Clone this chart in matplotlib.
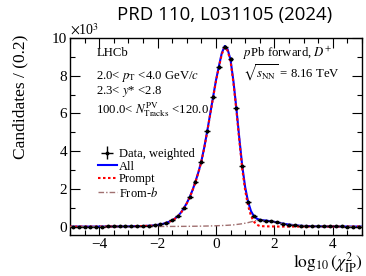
import numpy as np
import matplotlib
matplotlib.use("Agg")
import matplotlib.pyplot as plt
from matplotlib.ticker import MultipleLocator
from matplotlib.lines import Line2D

plt.rcParams['font.family'] = 'Liberation Serif'
plt.rcParams['mathtext.fontset'] = 'stix'

# data, units of 10^3 candidates per 0.2
bin_x = np.round(np.arange(-4.9, 5.0, 0.2), 2)
data_y = [0.0, 0.0, 0.0, 0.0, 0.0, 0.0, 0.005, 0.005, 0.01, 0.01,
          0.015, 0.02, 0.03, 0.04, 0.07, 0.12, 0.2, 0.33, 0.57, 0.97,
          1.56, 2.39, 3.45, 5.06, 6.86, 8.48, 9.52, 8.87, 6.27, 3.22,
          1.32, 0.55, 0.36, 0.32, 0.28, 0.22, 0.16, 0.11, 0.07, 0.045,
          0.03, 0.02, 0.015, 0.01, 0.01, 0.005, 0.005, 0.0, 0.0, 0.0]
data_err = [0.01, 0.01, 0.01, 0.01, 0.01, 0.01, 0.01, 0.01, 0.01, 0.01,
            0.01, 0.01, 0.015, 0.015, 0.02, 0.02, 0.03, 0.03, 0.04, 0.05,
            0.06, 0.07, 0.08, 0.09, 0.1, 0.11, 0.12, 0.11, 0.1, 0.07,
            0.05, 0.03, 0.03, 0.03, 0.03, 0.02, 0.02, 0.02, 0.015, 0.015,
            0.01, 0.01, 0.01, 0.01, 0.01, 0.01, 0.01, 0.01, 0.01, 0.01]

curve_x = [-5.0, -4.0, -3.0, -2.5, -2.2, -2.0, -1.8, -1.6, -1.5, -1.4,
           -1.3, -1.2, -1.1, -1.0, -0.9, -0.8, -0.7, -0.6, -0.5, -0.4,
           -0.3, -0.2, -0.1, 0.0, 0.1, 0.2, 0.3, 0.4, 0.5, 0.6,
           0.7, 0.8, 0.9, 1.0, 1.1, 1.2, 1.3, 1.4, 1.5, 1.6,
           1.8, 2.0, 2.2, 2.4, 2.6, 2.8, 3.0, 3.5, 4.0, 5.0]
all_y = [0.0, 0.0, 0.01, 0.03, 0.05, 0.09, 0.15, 0.26, 0.33, 0.43,
         0.56, 0.74, 0.97, 1.24, 1.56, 1.94, 2.39, 2.89, 3.46, 4.2,
         5.05, 5.95, 6.86, 7.75, 8.5, 9.2, 9.58, 9.4, 8.85, 7.7,
         6.27, 4.7, 3.22, 2.1, 1.32, 0.82, 0.55, 0.42, 0.36, 0.34,
         0.30, 0.25, 0.19, 0.13, 0.09, 0.055, 0.035, 0.015, 0.005, 0.0]
prompt_y = [0.0, 0.0, 0.01, 0.03, 0.048, 0.087, 0.145, 0.253, 0.322, 0.421,
            0.55, 0.729, 0.958, 1.227, 1.545, 1.923, 2.371, 2.869, 3.436, 4.173,
            5.02, 5.916, 6.822, 7.707, 8.45, 9.144, 9.517, 9.33, 8.77, 7.61,
            6.16, 4.57, 3.07, 1.92, 1.11, 0.57, 0.26, 0.1, 0.03, 0.02,
            0.01, 0.005, 0.0, 0.0, 0.0, 0.0, 0.0, 0.0, 0.0, 0.0]
fromb_y = [0.0, 0.0, 0.0, 0.0, 0.002, 0.003, 0.005, 0.007, 0.008, 0.009,
           0.01, 0.011, 0.012, 0.013, 0.015, 0.017, 0.019, 0.021, 0.024, 0.027,
           0.03, 0.034, 0.038, 0.043, 0.05, 0.056, 0.063, 0.07, 0.08, 0.09,
           0.11, 0.13, 0.15, 0.18, 0.21, 0.25, 0.29, 0.32, 0.33, 0.33,
           0.30, 0.25, 0.19, 0.13, 0.09, 0.055, 0.035, 0.015, 0.005, 0.0]

fig = plt.figure(figsize=(3.66, 2.76), dpi=100)
ax = fig.add_axes([0.191, 0.149, 0.798, 0.713])

ax.plot(curve_x, all_y, color='blue', lw=1.5, zorder=2)
ax.plot(curve_x, prompt_y, color='red', lw=1.5, ls=(0, (1.2, 1.2)), zorder=3)
ax.plot(curve_x, fromb_y, color='#a07070', lw=1.0, ls=(0, (4, 1.5, 1, 1.5)), zorder=3)
ax.errorbar(bin_x, data_y, xerr=0.1, yerr=data_err, fmt='o', color='k',
            ms=1.8, elinewidth=1.0, capsize=0, zorder=4)

ax.set_xlim(-5, 5)
ax.set_ylim(-0.44, 10.0)
ax.xaxis.set_major_locator(MultipleLocator(2))
ax.xaxis.set_minor_locator(MultipleLocator(0.5))
ax.yaxis.set_major_locator(MultipleLocator(2))
ax.yaxis.set_minor_locator(MultipleLocator(1))
ax.tick_params(which='both', direction='in', top=True, right=True, labelsize=11)
ax.tick_params(which='major', length=7, width=0.8, pad=2)
ax.tick_params(which='minor', length=3.5, width=0.8)
for s in ax.spines.values():
    s.set_linewidth(1.0)

fig.text(0.057, 0.65, "Candidates / (0.2)", rotation=90, ha='center',
         va='center', fontsize=12.5)
fig.text(0.992, 0.004, r"$\log_{10}(\chi^2_{\rm IP})$",
         ha='right', va='bottom', fontsize=12.5)
ax.text(0.0, 1.0, r"$\times$10$^3$", transform=ax.transAxes, ha='left',
        va='bottom', fontsize=10)

fs = 9.2
ax.text(0.09, 0.924, "LHCb", transform=ax.transAxes, fontsize=fs, va='center')
ax.text(0.09, 0.807, r"2.0< $p_{\rm T}$ <4.0 GeV/$c$", transform=ax.transAxes, fontsize=fs, va='center')
ax.text(0.09, 0.73, r"2.3< $y$* <2.8", transform=ax.transAxes, fontsize=fs, va='center')
ax.text(0.09, 0.635, r"100.0< $N^{\rm PV}_{\rm Tracks}$ <120.0", transform=ax.transAxes, fontsize=fs, va='center')
ax.text(0.593, 0.924, r"$p$Pb forward, $D^{+}$", transform=ax.transAxes, fontsize=fs, va='center')
ax.text(0.593, 0.822, r"$\sqrt{s_{\rm NN}}$ = 8.16 TeV", transform=ax.transAxes, fontsize=fs, va='center')

handles = [
    ax.errorbar([], [], xerr=[], yerr=[], fmt='o', color='k', ms=1.8, elinewidth=1.0),
    Line2D([], [], color='blue', lw=1.5),
    Line2D([], [], color='red', lw=1.5, ls=(0, (1.2, 1.2))),
    Line2D([], [], color='#a07070', lw=1.0, ls=(0, (4, 1.5, 1, 1.5))),
]
ax.legend(handles, ["Data, weighted", "All", "Prompt", r"From-$b$"],
          loc='upper left', bbox_to_anchor=(0.07, 0.48), frameon=False,
          fontsize=9, handlelength=1.5, handletextpad=0.2,
          labelspacing=0.05, borderpad=0.1)

fig.text(0.613, 0.945, "PRD 110, L031105 (2024)", ha='center', va='center',
         fontsize=13.4, family='Open Sans')

fig.savefig("out.png", dpi=100)
